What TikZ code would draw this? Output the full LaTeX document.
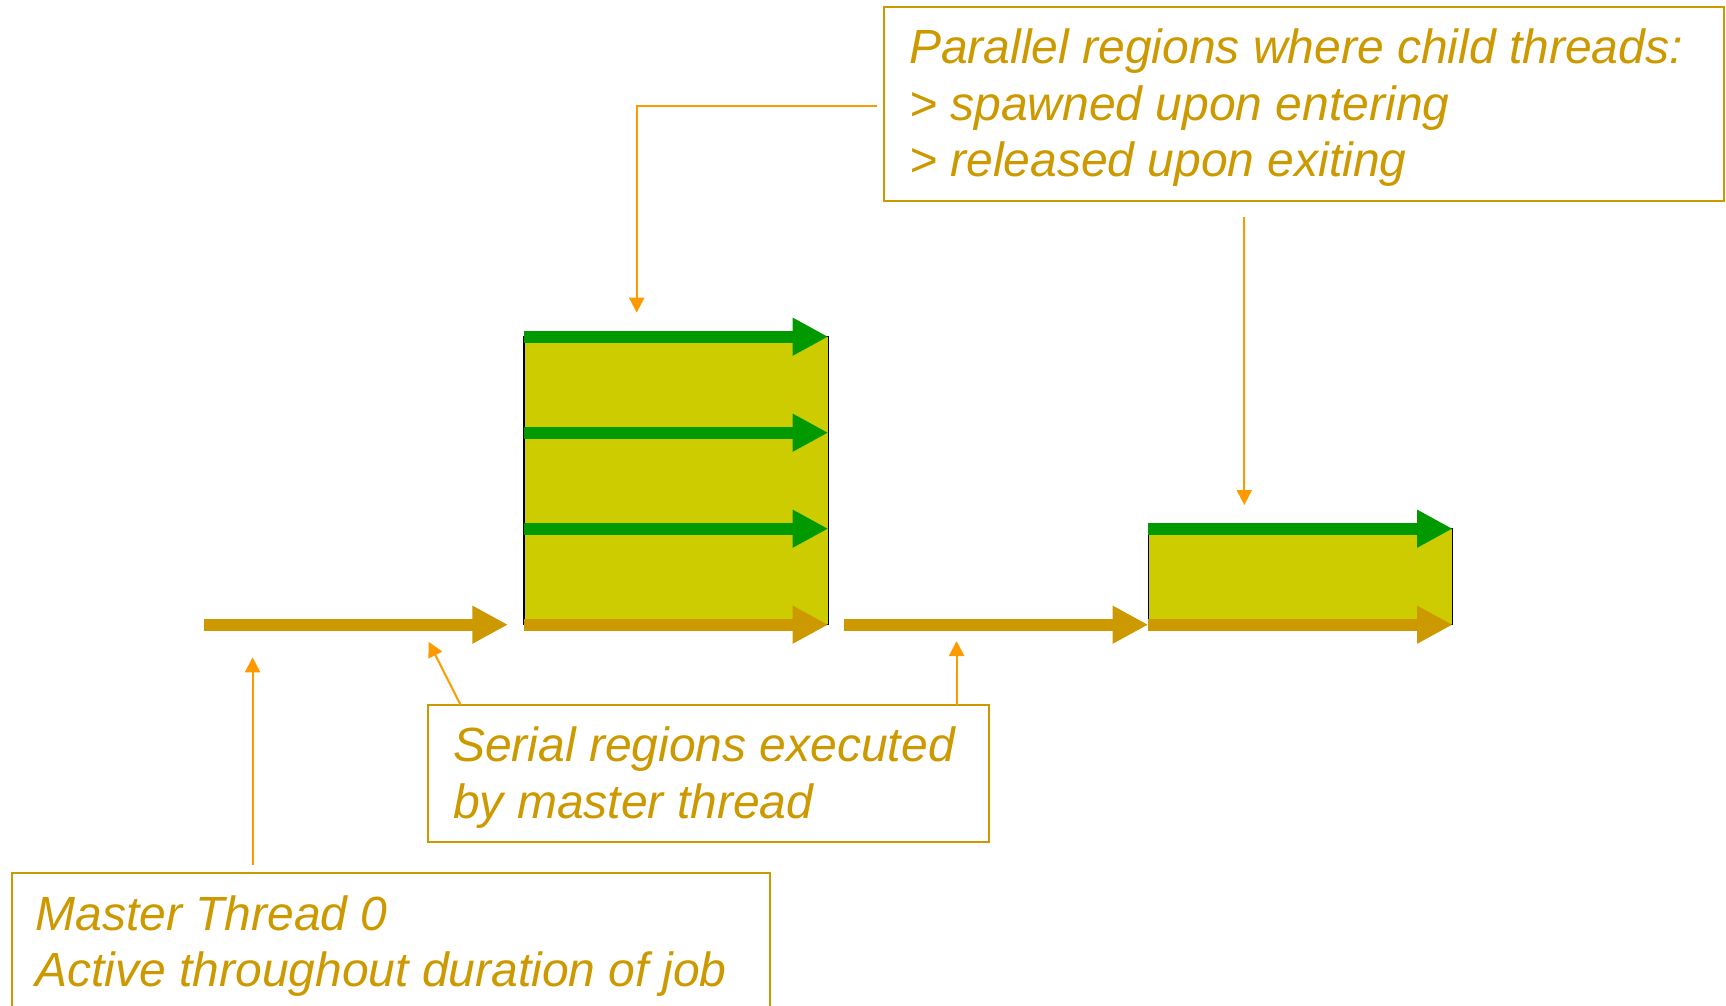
\documentclass[tikz,border=0pt]{standalone}
\usepackage{fontspec}
\setmainfont{Liberation Sans}
\usetikzlibrary{arrows.meta,calc}
\definecolor{regionfill}{HTML}{CCCC00}
\definecolor{childgreen}{HTML}{009900}
\definecolor{mastergold}{HTML}{CC9900}
\definecolor{leaderorange}{HTML}{FF9900}
\tikzset{
  thread/.style={line width=6pt, -{Triangle[length=17.8pt,width=17.7pt]}},
  masterarrow/.style={thread, color=mastergold},
  childarrow/.style={thread, color=childgreen},
  region/.style={rectangle, draw=black, line width=0.75pt, fill=regionfill,
    inner sep=0pt, outer sep=0pt, anchor=north west},
  callout/.style={rectangle, draw=mastergold, line width=1pt, inner sep=0pt,
    outer sep=0pt, anchor=north west},
  calltext/.style={text=mastergold, font=\fontsize{24}{28.35}\selectfont\itshape,
    anchor=base west, inner sep=0pt},
  leader/.style={draw=leaderorange, line width=1pt,
    -{Triangle[length=7.5pt,width=7.5pt]}},
}
\begin{document}
\begin{tikzpicture}[x=0.5pt,y=-0.5pt]
\useasboundingbox (0,0) rectangle (1726,1006);
\clip (0,0) rectangle (1726,1006);

% parallel regions
\node[region, minimum width=152.15pt, minimum height=144pt] (par1) at (524,336.7) {};
\node[region, minimum width=152.2pt, minimum height=48pt] (par2) at (1148.3,528.7) {};

% child threads
\draw[childarrow] (par1.north west) -- (par1.north east);
\draw[childarrow] ($(par1.north west)!1/3!(par1.south west)$) -- ($(par1.north east)!1/3!(par1.south east)$);
\draw[childarrow] ($(par1.north west)!2/3!(par1.south west)$) -- ($(par1.north east)!2/3!(par1.south east)$);
\draw[childarrow] (par2.north west) -- (par2.north east);

% master thread
\coordinate (mstart) at (204,624.7);
\draw[masterarrow] (mstart) -- ([xshift=-8pt]par1.south west);
\draw[masterarrow] (par1.south west) -- (par1.south east);
\draw[masterarrow] ([xshift=8pt]par1.south east) -- (par2.south west);
\draw[masterarrow] (par2.south west) -- (par2.south east);

% callout boxes
\node[callout, minimum width=420.4pt, minimum height=97.15pt] (pbox) at (883.5,6.7) {};
\node[callout, minimum width=280.25pt, minimum height=68.5pt] (sbox) at (428,704.7) {};
\node[callout, minimum width=379.45pt, minimum height=85pt] (mbox) at (11.5,873.3) {};

\node[calltext] (p1) at (908.7,63.3) {Parallel regions where child threads:};
\node[calltext] (p2) at (908.7,120.7) {> spawned upon entering};
\node[calltext] (p3) at (908.7,176.7) {> released upon exiting};
\node[calltext] (s1) at (452.8,761.7) {Serial regions executed};
\node[calltext] (s2) at (452.8,818.3) {by master thread};
\node[calltext] (m1) at (35,930) {Master Thread 0};
\node[calltext] (m2) at (35,986.7) {Active throughout duration of job};

% leader lines
\coordinate (pl1) at (877,105.7);
\coordinate (pt1) at (636.7,312.7);
\draw[leader] (pl1) -| (pt1);
\coordinate (pl2) at (1244.3,216.9);
\coordinate (pt2) at (1244.3,505);
\draw[leader] (pl2) -- (pt2);
\coordinate (ml) at (252.6,865);
\coordinate (mt) at (252.6,657.3);
\draw[leader] (ml) -- (mt);
\coordinate (sl1) at (460.5,704.7);
\coordinate (st1) at (428.6,641.7);
\draw[leader] (sl1) -- (st1);
\coordinate (sl2) at (956.6,704.7);
\coordinate (st2) at (956.6,641);
\draw[leader] (sl2) -- (st2);
\end{tikzpicture}
\end{document}
